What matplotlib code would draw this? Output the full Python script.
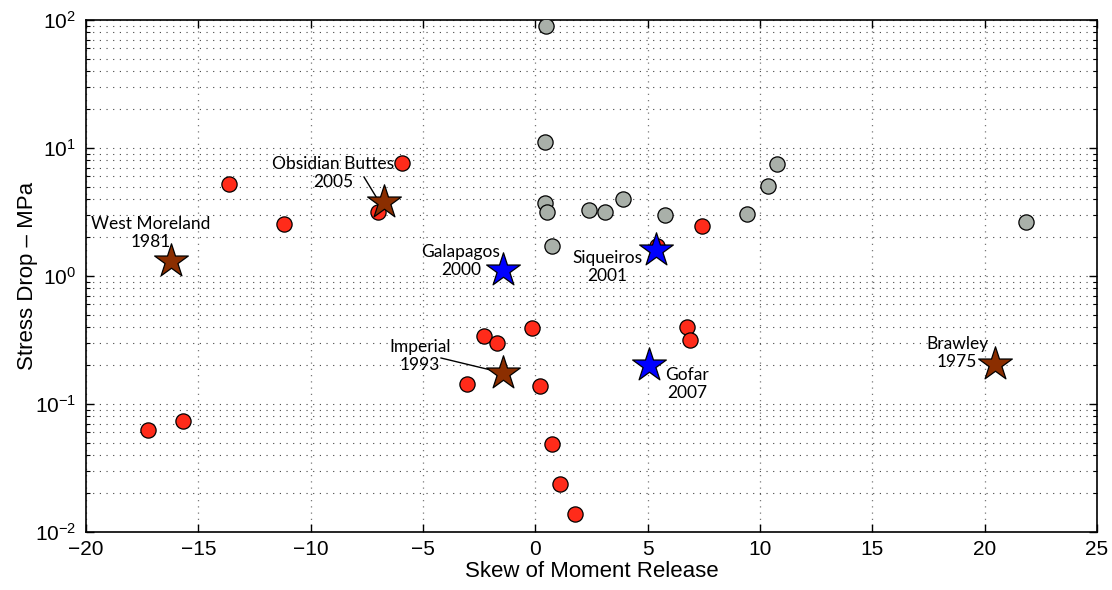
import matplotlib
matplotlib.use("Agg")
import matplotlib.pyplot as plt
from matplotlib.ticker import LogLocator, FixedLocator

plt.rcParams['font.family'] = ['Liberation Sans', 'DejaVu Sans']
plt.rcParams['mathtext.fontset'] = 'custom'
plt.rcParams['mathtext.rm'] = 'Liberation Sans'
plt.rcParams['mathtext.it'] = 'Liberation Sans'

# Red events
red_x = [-17.24, -15.70, -13.65, -11.20, -7.01, -5.92, 7.43, 5.42,
         -0.16, -2.29, -1.71, -3.05, 0.19, 0.72, 1.12, 1.77, 6.74, 6.89]
red_y = [0.063, 0.074, 5.25, 2.57, 3.15, 7.62, 2.48, 1.71,
         0.393, 0.340, 0.302, 0.143, 0.139, 0.049, 0.0237, 0.0139, 0.398, 0.318]

# Gray events
gray_x = [0.47, 0.42, 0.41, 0.50, 0.72, 2.40, 3.12, 3.90, 5.79, 9.40, 10.36, 10.75, 21.84]
gray_y = [89.3, 11.1, 3.69, 3.19, 1.72, 3.29, 3.15, 4.01, 2.99, 3.06, 5.07, 7.44, 2.64]

# Continental (brown) stars
brown_names = ["West Moreland\n1981", "Obsidian Buttes\n2005", "Imperial\n1993", "Brawley\n1975"]
brown_x = [-16.22, -6.73, -1.46, 20.44]
brown_y = [1.31, 3.80, 0.176, 0.207]

# Oceanic (blue) stars
blue_names = ["Galapagos\n2000", "Siqueiros\n2001", "Gofar\n2007"]
blue_x = [-1.42, 5.35, 5.04]
blue_y = [1.11, 1.59, 0.203]

fig = plt.figure(figsize=(11.12, 5.90), dpi=100)
ax = fig.add_axes([86/1112, 1 - 532/590, (1097-86)/1112, (532-20)/590])

ax.set_yscale('log')
ax.set_xlim(-20, 25)
ax.set_ylim(1e-2, 1e2)

ax.xaxis.set_major_locator(FixedLocator(list(range(-20, 26, 5))))
ax.yaxis.set_major_locator(LogLocator(base=10, numticks=10))
ax.yaxis.set_minor_locator(LogLocator(base=10, subs=range(2, 10), numticks=10))
ax.grid(True, which='major', axis='x', linestyle=(0, (1, 4)), color='#777777', linewidth=0.9)
ax.grid(True, which='both', axis='y', linestyle=(0, (1, 5)), color='#444444', linewidth=0.8)
ax.set_axisbelow(True)

ax.scatter(red_x, red_y, s=120, c='#FF2B1A', edgecolors='black', linewidths=0.9, zorder=3)
ax.scatter(gray_x, gray_y, s=120, c='#A9B0A9', edgecolors='black', linewidths=0.9, zorder=3)
ax.scatter(brown_x, brown_y, s=650, marker='*', c='#8B2E00', edgecolors='black', linewidths=0.9, zorder=4)
ax.scatter(blue_x, blue_y, s=650, marker='*', c='#0000FF', edgecolors='black', linewidths=0.9, zorder=4)

afont = dict(family=['Lato', 'DejaVu Sans'], fontsize=12.5, ha='center', va='center', linespacing=1.2)

def px2data(px, py):
    return ax.transData.inverted().transform(fig.transFigure.transform((px/1112, 1 - py/590)))

lbl_pos = {
    "West Moreland\n1981": (151, 233),
    "Obsidian Buttes\n2005": (333, 173),
    "Imperial\n1993": (420, 356),
    "Brawley\n1975": (957, 353),
    "Galapagos\n2000": (461, 261),
    "Siqueiros\n2001": (607, 267),
    "Gofar\n2007": (687, 384),
}
for name, (px, py) in lbl_pos.items():
    x, y = px2data(px, py)
    ax.text(x, y, name, zorder=5, **afont)

for (p0, p1) in [((364, 177), (378, 200)), ((441, 358), (495, 371))]:
    a = px2data(*p0)
    b = px2data(*p1)
    ax.plot([a[0], b[0]], [a[1], b[1]], color='black', linewidth=1.0, zorder=3.5)

ax.tick_params(which='both', direction='in', top=True, right=True, labelsize=15)
ax.tick_params(axis='x', which='major', pad=6)
ax.tick_params(axis='y', which='major', pad=7)
ax.tick_params(which='major', length=6, width=1)
ax.tick_params(which='minor', length=3, width=0.8)
ax.tick_params(axis='x', which='minor', top=False, bottom=False)
for sp in ax.spines.values():
    sp.set_linewidth(1.2)

ax.set_xlabel('Skew of Moment Release', fontsize=16, labelpad=1)
ax.set_ylabel('Stress Drop – MPa', fontsize=16, labelpad=-2)

fig.savefig('out.png', dpi=100)
